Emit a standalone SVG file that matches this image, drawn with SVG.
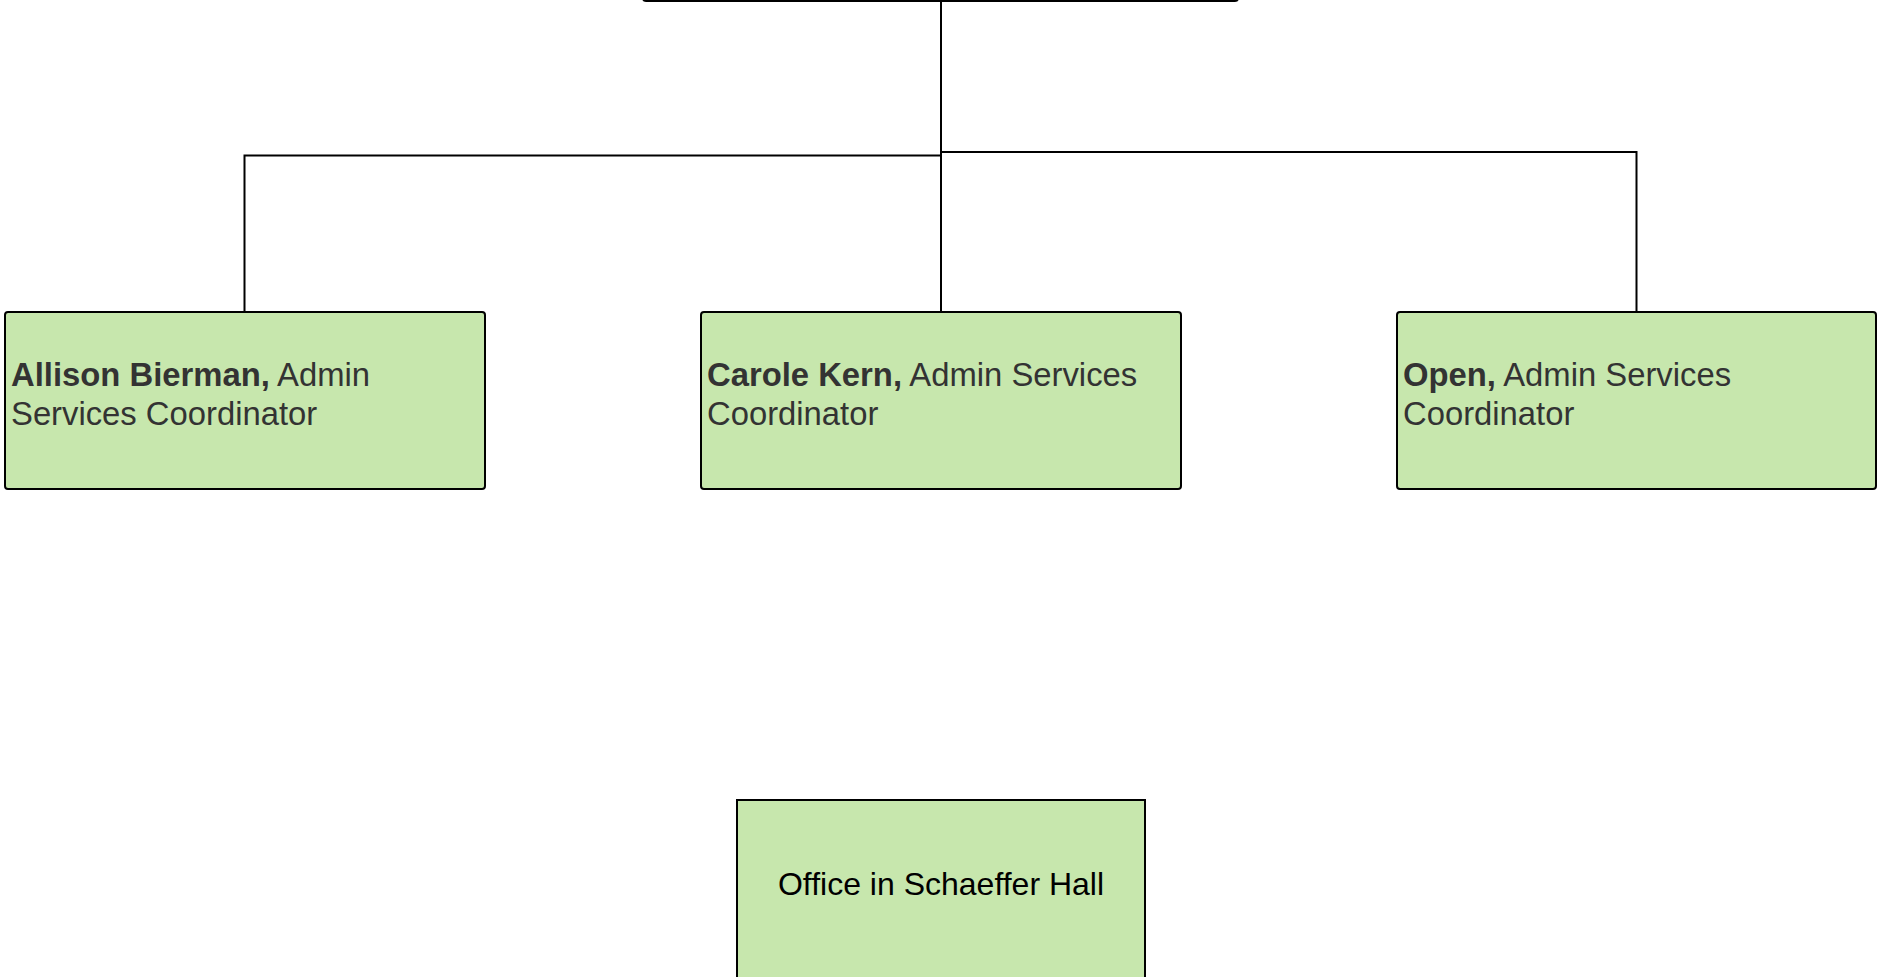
<svg xmlns="http://www.w3.org/2000/svg" width="1877" height="977" viewBox="0 0 1877 977">
<style>
.box{fill:#c7e7ad;stroke:#000;stroke-width:2}
.conn{fill:none;stroke:#000;stroke-width:2}
.t{font-family:"Liberation Sans",Arial,sans-serif;font-size:32.8px;fill:#333}
.b{font-weight:bold}
.c{font-family:"Liberation Sans",Arial,sans-serif;font-size:32px;fill:#000;text-anchor:middle}
</style>
<rect width="1877" height="977" fill="#fff"/>
<g id="connectors">
<path class="conn" d="M941 0 V311"/>
<path class="conn" d="M244.5 311 V155.5 H941 V120"/>
<path class="conn" d="M1636.5 311 V152 H941"/>
</g>
<g id="top-node">
<rect class="box" x="643" y="-60" width="595" height="61" rx="3"/>
</g>
<g id="allison">
<rect class="box" x="5" y="312" width="480" height="177" rx="3"/>
<text class="t" x="11" y="386"><tspan class="b">Allison Bierman,</tspan> Admin</text>
<text class="t" x="11" y="425">Services Coordinator</text>
</g>
<g id="carole">
<rect class="box" x="701" y="312" width="480" height="177" rx="3"/>
<text class="t" x="707" y="386"><tspan class="b">Carole Kern,</tspan> Admin Services</text>
<text class="t" x="707" y="425">Coordinator</text>
</g>
<g id="open">
<rect class="box" x="1397" y="312" width="479" height="177" rx="3"/>
<text class="t" x="1403" y="386"><tspan class="b">Open,</tspan> Admin Services</text>
<text class="t" x="1403" y="425">Coordinator</text>
</g>
<g id="office">
<rect class="box" x="737" y="800" width="408" height="200"/>
<text class="c" x="941" y="895">Office in Schaeffer Hall</text>
</g>
</svg>
